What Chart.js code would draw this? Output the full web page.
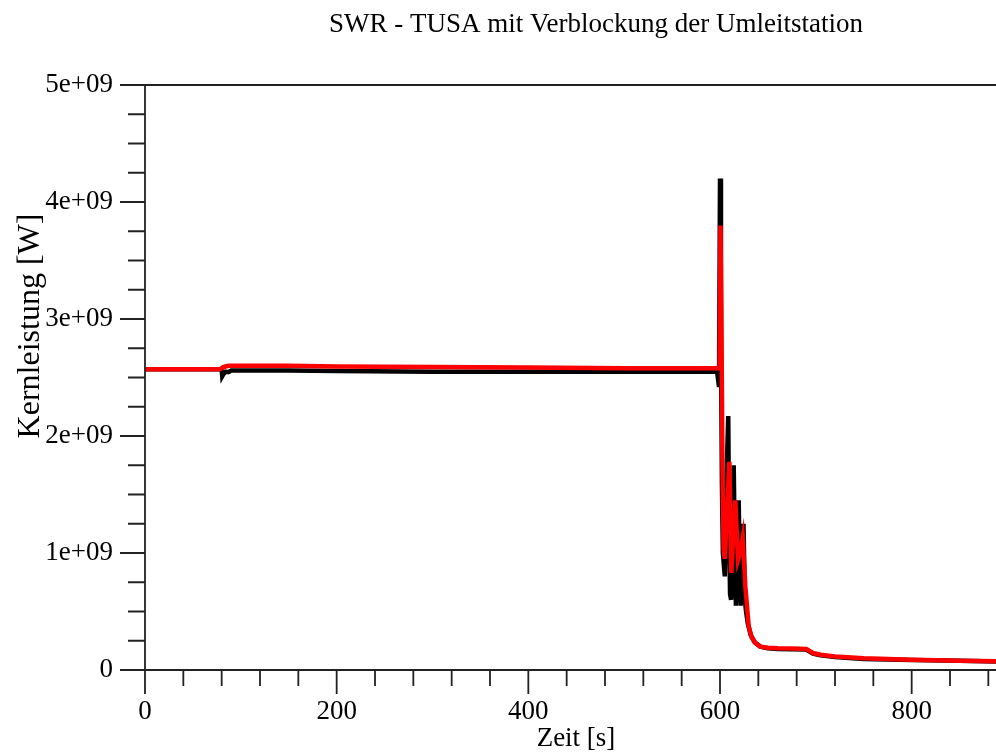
<!DOCTYPE html>
<html>
<head>
<meta charset="utf-8">
<script src="https://cdn.jsdelivr.net/npm/chart.js@4"></script>
<style>
  html, body { margin: 0; padding: 0; background: #fff; overflow: hidden; }
  #wrap { width: 996px; height: 753px; }
</style>
</head>
<body>
<div id="wrap"><canvas id="chart" width="996" height="753"></canvas></div>
<script>
// Kernleistung [W] over Zeit [s]
const blackTime = [0, 80, 80.6, 82, 84, 87, 90, 100, 150, 200, 300, 400, 500, 597, 599, 600, 601, 602, 603, 604, 605, 606, 607, 608.6, 609.5, 610.5, 611.6, 613, 614.3, 615.5, 616.6, 618, 619.5, 620.5, 621.6, 623, 624.5, 626, 627.2, 629, 632, 636, 642, 650, 660, 675, 690, 693, 697, 705, 720, 750, 800, 850, 888];
const blackPower = [2.57e9, 2.57e9, 2.51e9, 2.53e9, 2.55e9, 2.545e9, 2.56e9, 2.56e9, 2.56e9, 2.555e9, 2.55e9, 2.55e9, 2.55e9, 2.55e9, 2.42e9, 4.2e9, 2.8e9, 1.6e9, 1.0e9, 0.9e9, 0.8e9, 1.2e9, 1.7e9, 2.17e9, 1.2e9, 0.65e9, 0.6e9, 1.2e9, 1.75e9, 1.0e9, 0.55e9, 0.9e9, 1.45e9, 0.9e9, 0.55e9, 1.1e9, 1.25e9, 0.6e9, 0.5e9, 0.4e9, 0.3e9, 0.24e9, 0.2e9, 0.185e9, 0.18e9, 0.178e9, 0.175e9, 0.16e9, 0.14e9, 0.125e9, 0.11e9, 0.095e9, 0.085e9, 0.078e9, 0.072e9];

const redTime = [0, 78, 82, 87, 100, 150, 200, 300, 400, 500, 599.5, 600.5, 601.5, 602.5, 603.8, 605, 607, 609.8, 611.8, 614, 616, 618.8, 621, 623.7, 626.5, 630, 633, 637, 642, 650, 660, 675, 690, 693, 697, 705, 720, 750, 800, 850, 888];
const redPower = [2.57e9, 2.57e9, 2.59e9, 2.6e9, 2.6e9, 2.6e9, 2.595e9, 2.59e9, 2.585e9, 2.58e9, 2.58e9, 3.8e9, 3.0e9, 1.8e9, 1.03e9, 0.95e9, 1.3e9, 1.78e9, 0.83e9, 1.2e9, 1.45e9, 0.94e9, 1.0e9, 1.13e9, 0.71e9, 0.37e9, 0.28e9, 0.23e9, 0.2e9, 0.19e9, 0.185e9, 0.183e9, 0.18e9, 0.165e9, 0.145e9, 0.13e9, 0.115e9, 0.1e9, 0.088e9, 0.08e9, 0.075e9];

const xMin = 0, xMax = 888, xStep = 40, xMajor = 200;
const yMin = 0, yMax = 5e9, yStep = 0.25e9, yMajor = 1e9;

const titleText = 'SWR - TUSA mit Verblockung der Umleitstation';
const xLabel = 'Zeit [s]';
const yLabel = 'Kernleistung [W]';

const fontFamily = '"Liberation Serif", "Times New Roman", serif';
const axisColor = '#222';

const toPoints = (xs, ys) => xs.map((x, i) => ({ x: x, y: ys[i] }));

// ticks of two lengths, axis lines, top frame line and the texts
const framePlugin = {
  id: 'frame',
  afterDraw(chart) {
    const ctx = chart.ctx;
    const area = chart.chartArea;
    const xs = chart.scales.x;
    const ys = chart.scales.y;
    ctx.save();
    ctx.strokeStyle = axisColor;
    ctx.lineWidth = 1.8;
    ctx.beginPath();
    ctx.moveTo(area.left, area.top);
    ctx.lineTo(area.left, area.bottom);
    ctx.moveTo(area.left, area.bottom);
    ctx.lineTo(area.right, area.bottom);
    ctx.moveTo(area.left - 25, area.top);
    ctx.lineTo(area.right, area.top);
    xs.ticks.forEach(t => {
      const px = xs.getPixelForValue(t.value);
      const len = t.value % xMajor === 0 ? 24 : 16;
      ctx.moveTo(px, area.bottom);
      ctx.lineTo(px, area.bottom + len);
    });
    ys.ticks.forEach(t => {
      const py = ys.getPixelForValue(t.value);
      const len = t.value % yMajor === 0 ? 25 : 17;
      ctx.moveTo(area.left, py);
      ctx.lineTo(area.left - len, py);
    });
    ctx.stroke();

    ctx.fillStyle = '#000';
    ctx.font = '27px ' + fontFamily;
    ctx.textAlign = 'center';
    ctx.textBaseline = 'alphabetic';
    ctx.fillText(titleText, 596, 32);
    ctx.fillText(xLabel, 576, 746);
    ctx.font = '32px ' + fontFamily;
    ctx.translate(39, 326);
    ctx.rotate(-Math.PI / 2);
    ctx.fillText(yLabel, 0, 0);
    ctx.restore();
  }
};

new Chart(document.getElementById('chart'), {
  type: 'line',
  data: {
    datasets: [
      {
        label: 'red',
        data: toPoints(redTime, redPower),
        borderColor: '#ff0000',
        borderWidth: 4.5,
        pointRadius: 0,
        tension: 0,
        fill: false
      },
      {
        label: 'black',
        data: toPoints(blackTime, blackPower),
        borderColor: '#000',
        borderWidth: 4.5,
        pointRadius: 0,
        tension: 0,
        fill: false
      }
    ]
  },
  options: {
    responsive: false,
    animation: false,
    layout: { padding: { top: 85, left: 0, right: 0, bottom: 0 } },
    plugins: {
      legend: { display: false },
      title: { display: false },
      tooltip: { enabled: false }
    },
    scales: {
      x: {
        type: 'linear',
        min: xMin,
        max: xMax,
        border: { display: false },
        grid: { display: true, drawOnChartArea: false, drawTicks: true, tickLength: 24, tickColor: 'rgba(0,0,0,0)' },
        ticks: {
          stepSize: xStep,
          includeBounds: false,
          autoSkip: false,
          maxRotation: 0,
          padding: 2,
          color: '#000',
          font: { family: fontFamily, size: 27 },
          callback: v => (v % xMajor === 0 ? String(v) : '')
        },
        afterFit: s => { s.height = 83; }
      },
      y: {
        type: 'linear',
        min: yMin,
        max: yMax,
        border: { display: false },
        grid: { display: true, drawOnChartArea: false, drawTicks: true, tickLength: 25, tickColor: 'rgba(0,0,0,0)' },
        ticks: {
          stepSize: yStep,
          includeBounds: false,
          autoSkip: false,
          padding: 7,
          color: '#000',
          font: { family: fontFamily, size: 27 },
          callback: v => (v % yMajor === 0 ? (v === 0 ? '0' : (v / 1e9) + 'e+09') : '')
        },
        afterFit: s => { s.width = 145; }
      }
    }
  },
  plugins: [framePlugin]
});
</script>
</body>
</html>
